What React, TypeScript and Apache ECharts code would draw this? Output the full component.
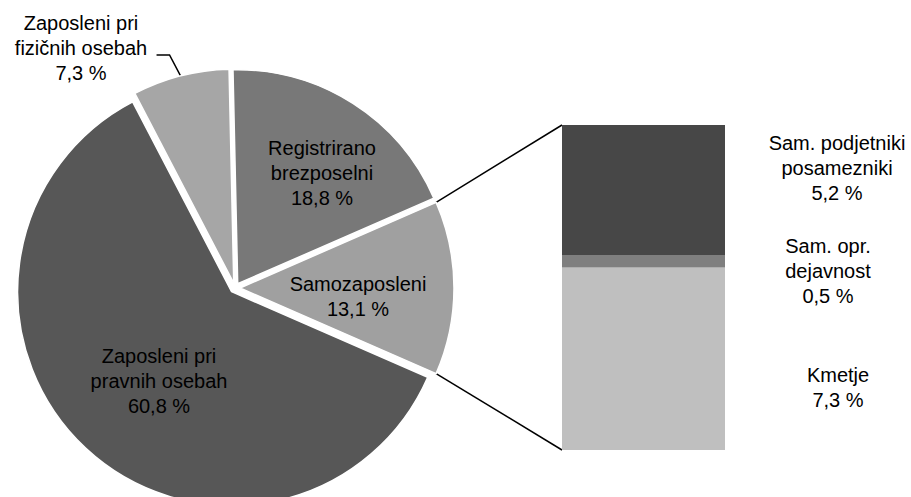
import React, { useEffect, useRef } from "react";
import * as echarts from "echarts";

// Pie data (clockwise from the split-off slice)
const pieNames = [
  "Samozaposleni",
  "Zaposleni pri\npravnih osebah",
  "Zaposleni pri\nfizičnih osebah",
  "Registrirano\nbrezposelni",
];
const pieValues = [13.1, 60.8, 7.3, 18.8];
const pieColors = ["#a0a0a0", "#575757", "#a6a6a6", "#787878"];

// Breakdown of "Samozaposleni" (bottom to top)
const barNames = ["Kmetje", "Sam. opr.\ndejavnost", "Sam. podjetniki\nposamezniki"];
const barValues = [7.3, 0.5, 5.2];
const barColors = ["#bfbfbf", "#7f7f7f", "#474747"];

// Layout
const PIE_CX = 235;
const PIE_CY = 288;
const PIE_R = 214;
const EXPLODE = 5;
const GRID = { left: 562, top: 125, width: 163, height: 325 };
const pieLabelPos = [
  [358, 296],
  [159, 381],
  [81, 48],
  [322, 173],
];
const barLabelPos = [
  [838, 387],
  [828, 271],
  [837, 168],
];

const FONT = '20px "Liberation Sans", Arial, sans-serif';
const fmt = (v: number) => v.toFixed(1).replace(".", ",") + " %";

export default function App() {
  const ref = useRef<HTMLDivElement>(null);
  useEffect(() => {
    if (!ref.current) return;
    const chart = echarts.init(ref.current, undefined, { renderer: "svg" });

    const pieSum = pieValues.reduce((a, b) => a + b, 0);
    const barTotal = barValues.reduce((a, b) => a + b, 0);
    const startAngle = ((pieValues[0] / pieSum) * 360) / 2;
    const a = (startAngle * Math.PI) / 180;

    // split-off slice corners (slice 0 is centred on angle 0, exploded to the right)
    const sx = PIE_CX + EXPLODE + PIE_R * Math.cos(a);
    const upY = PIE_CY - PIE_R * Math.sin(a);
    const loY = PIE_CY + PIE_R * Math.sin(a);
    const barLeft = GRID.left;
    const barTop = GRID.top + GRID.height * (1 - barTotal / barTotal);
    const barBottom = GRID.top + GRID.height;

    // leader line for the small slice (index 2)
    let acc = 0;
    for (let i = 0; i < 2; i++) acc += pieValues[i];
    const midDeg = startAngle - ((acc + pieValues[2] / 2) / pieSum) * 360;
    const m = (midDeg * Math.PI) / 180;
    const p0x = PIE_CX + (PIE_R + EXPLODE) * Math.cos(m);
    const p0y = PIE_CY - (PIE_R + EXPLODE) * Math.sin(m);
    const p1x = p0x - 11;
    const p1y = p0y - 21;
    const p2x = p1x - 13;

    const texts: any[] = [];
    pieNames.forEach((n, i) => {
      texts.push({
        type: "text",
        x: pieLabelPos[i][0],
        y: pieLabelPos[i][1],
        silent: true,
        style: {
          text: n + "\n" + fmt(pieValues[i]),
          fill: "#000",
          font: FONT,
          align: "center",
          verticalAlign: "middle",
          lineHeight: 25,
        },
        z: 100,
      });
    });
    barNames.forEach((n, i) => {
      texts.push({
        type: "text",
        x: barLabelPos[i][0],
        y: barLabelPos[i][1],
        silent: true,
        style: {
          text: n + "\n" + fmt(barValues[i]),
          fill: "#000",
          font: FONT,
          align: "center",
          verticalAlign: "middle",
          lineHeight: 25,
        },
        z: 100,
      });
    });

    chart.setOption({
      animation: false,
      backgroundColor: "#fff",
      grid: { ...GRID, containLabel: false },
      xAxis: { type: "category", data: [""], show: false },
      yAxis: { type: "value", min: 0, max: barTotal, show: false },
      series: [
        {
          type: "pie",
          center: [PIE_CX, PIE_CY],
          radius: PIE_R,
          startAngle,
          clockwise: true,
          selectedMode: "multiple",
          selectedOffset: EXPLODE,
          silent: true,
          label: { show: false },
          labelLine: { show: false },
          emphasis: { disabled: true },
          itemStyle: { borderColor: "#fff", borderWidth: 1.5 },
          select: { itemStyle: { borderColor: "#fff", borderWidth: 1.5 } },
          data: pieNames.map((n, i) => ({
            name: n,
            value: pieValues[i],
            selected: true,
            itemStyle: { color: pieColors[i] },
            select: { itemStyle: { color: pieColors[i] } },
          })),
        },
        ...barNames.map((n, i) => ({
          type: "bar",
          name: n,
          stack: "s",
          barWidth: "100%",
          silent: true,
          itemStyle: { color: barColors[i] },
          data: [barValues[i]],
        })),
      ],
      graphic: [
        ...texts,
        {
          type: "line",
          silent: true,
          shape: { x1: sx, y1: upY, x2: barLeft, y2: barTop },
          style: { stroke: "#000", lineWidth: 1.5 },
        },
        {
          type: "line",
          silent: true,
          shape: { x1: sx, y1: loY, x2: barLeft, y2: barBottom },
          style: { stroke: "#000", lineWidth: 1.5 },
        },
        {
          type: "polyline",
          silent: true,
          shape: { points: [[p0x, p0y], [p1x, p1y], [p2x, p1y]] },
          style: { stroke: "#000", lineWidth: 1.5, fill: null },
        },
      ],
    });
    return () => chart.dispose();
  }, []);
  return (
    <div
      ref={ref}
      style={{ position: "fixed", left: 0, top: 0, width: 911, height: 497 }}
    />
  );
}
